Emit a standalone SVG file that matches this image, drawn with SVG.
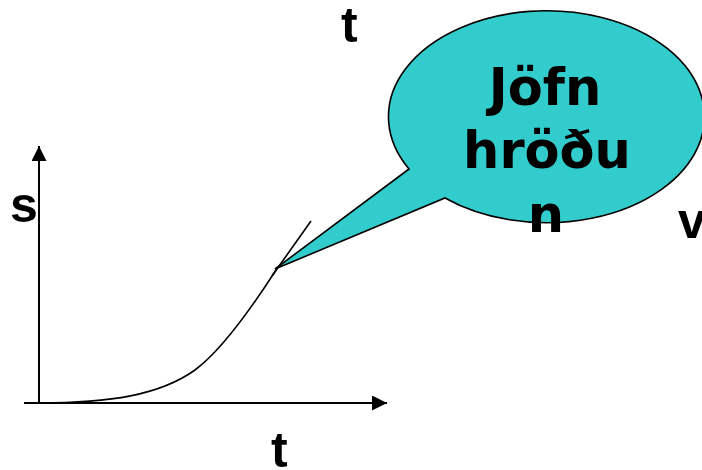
<svg xmlns="http://www.w3.org/2000/svg" width="702" height="470" viewBox="0 0 702 470">
<style>
.lbl{font-family:"Liberation Sans",Arial,sans-serif;font-weight:bold;font-size:50px;fill:#000}
.btxt{font-family:"DejaVu Sans",Verdana,sans-serif;font-weight:bold;font-size:51px;fill:#000;text-anchor:middle}
.ax{stroke:#000;stroke-width:2;fill:none}
.ln{stroke:#000;stroke-width:1.6;fill:none}
</style>
<defs>
<marker id="arr" viewBox="0 0 10 10" refX="10" refY="5" markerWidth="8" markerHeight="8" markerUnits="userSpaceOnUse" orient="auto">
<path d="M0,0 L10,5 L0,10 Z" fill="#000"/>
</marker>
<marker id="arrB" viewBox="0 0 10 10" refX="10" refY="5" markerWidth="15" markerHeight="15" markerUnits="userSpaceOnUse" orient="auto">
<path d="M0,0 L10,5 L0,10 Z" fill="#000"/>
</marker>
</defs>
<rect width="702" height="470" fill="#fff"/>
<g id="connectors">
<line id="s-axis" class="ax" x1="39" y1="403" x2="39" y2="146" marker-end="url(#arrB)"/>
<line id="t-axis" class="ax" x1="24" y1="403" x2="387" y2="403" marker-end="url(#arrB)"/>
<path id="curve" class="ln" d="M39,403 C110,403 160,395 195,370 C225,348 258,298 276,270"/>
<line id="tangent" class="ln" x1="272" y1="276" x2="311" y2="221"/>
</g>
<g id="bubble">
<path d="M409,169 L275,269 L445,198 A158,106 0 1 0 409,169 Z" fill="#33CCCC" stroke="#000" stroke-width="1.6" stroke-linejoin="miter"/>
<text class="btxt" x="545" y="105">Jöfn</text>
<text class="btxt" x="547" y="168">hröðu</text>
<text class="btxt" x="546" y="232">n</text>
</g>
<g id="labels">
<text class="lbl" x="10" y="222">s</text>
<text class="lbl" x="341" y="42">t</text>
<text class="lbl" x="271" y="467">t</text>
<text class="lbl" x="678" y="238">v</text>
</g>
</svg>
